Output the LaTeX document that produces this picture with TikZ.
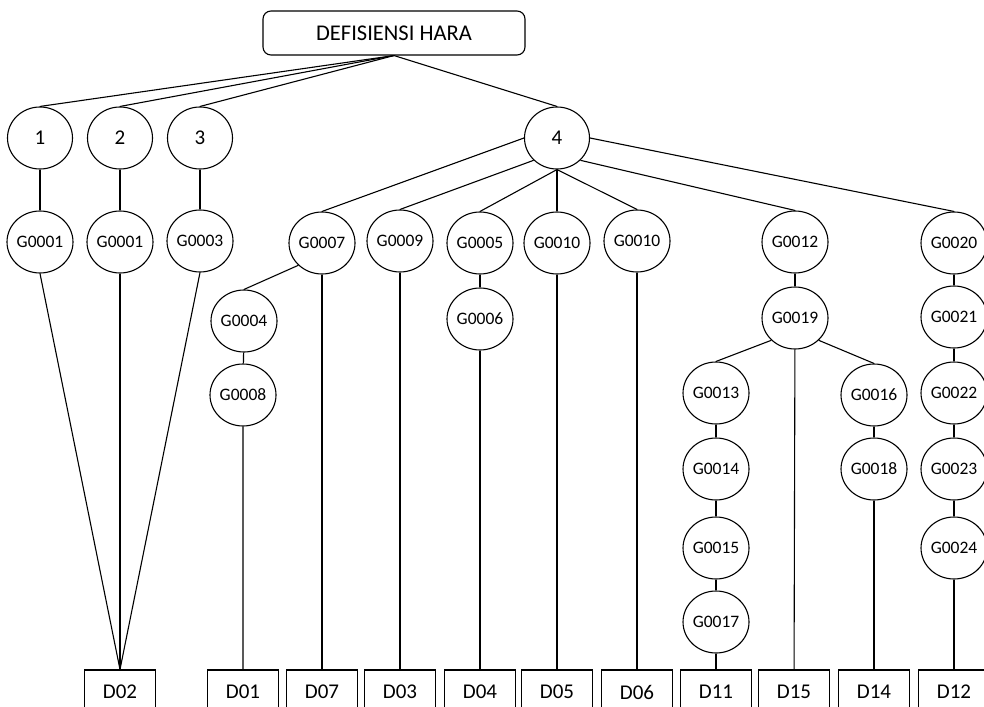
\documentclass[tikz,border=0pt]{standalone}
\usepackage{fontspec}
\setmainfont{Carlito}
\usetikzlibrary{shapes.geometric}
\begin{document}
\begin{tikzpicture}[x=1pt,y=-1pt,line width=1.1pt,
	akar/.style={draw,rounded corners=8pt,minimum width=262pt,minimum height=44pt,font=\fontsize{22.5}{26}\selectfont},
	kat/.style={draw,ellipse,minimum width=65pt,minimum height=62pt,inner sep=0pt,font=\fontsize{21}{25}\selectfont},
	gej/.style={draw,ellipse,minimum width=66pt,minimum height=62pt,inner sep=0pt,font=\fontsize{17.5}{20}\selectfont},
	pkt/.style={draw,minimum width=71pt,minimum height=44pt,inner sep=0pt,font=\fontsize{21}{25}\selectfont}]
				\clip (0,0) rectangle (984,706);
				\node[akar] (root) at (394,33) {DEFISIENSI HARA};
				\node[kat] (k1) at (40,138) {1};
				\node[kat] (k2) at (120,138) {2};
				\node[kat] (k3) at (200,138) {3};
				\node[kat] (k4) at (557,138) {4};
				\node[gej] (g1a) at (40,242) {G0001};
				\node[gej] (g1b) at (120,242) {G0001};
				\node[gej] (g3) at (200,241) {G0003};
				\node[gej] (g7) at (322,243) {G0007};
				\node[gej] (g9) at (400,241) {G0009};
				\node[gej] (g5) at (480,243) {G0005};
				\node[gej] (g10a) at (557,243) {G0010};
				\node[gej] (g10b) at (637,241) {G0010};
				\node[gej] (g12) at (795,242) {G0012};
				\node[gej] (g20) at (954,243) {G0020};
				\node[gej] (g4) at (244,321) {G0004};
				\node[gej] (g6) at (480,319) {G0006};
				\node[gej] (g19) at (795,318) {G0019};
				\node[gej] (g21) at (954,317) {G0021};
				\node[gej] (g8) at (243,395) {G0008};
				\node[gej] (g13) at (716,393) {G0013};
				\node[gej] (g16) at (874,395) {G0016};
				\node[gej] (g22) at (954,393) {G0022};
				\node[gej] (g14) at (716,469) {G0014};
				\node[gej] (g18) at (874,469) {G0018};
				\node[gej] (g23) at (954,469) {G0023};
				\node[gej] (g15) at (716,548) {G0015};
				\node[gej] (g24) at (954,548) {G0024};
				\node[gej] (g17) at (716,622) {G0017};
				\node[pkt] (d02) at (120,692) {D02};
				\node[pkt] (d01) at (243,692) {D01};
				\node[pkt] (d07) at (322,692) {D07};
				\node[pkt] (d03) at (400,692) {D03};
				\node[pkt] (d04) at (480,692) {D04};
				\node[pkt] (d05) at (557,692) {D05};
				\node[pkt] (d06) at (637,692) {D06};
				\node[pkt] (d11) at (716,692) {D11};
				\node[pkt] (d15) at (794,692) {D15};
				\node[pkt] (d14) at (874,692) {D14};
				\node[pkt] (d12) at (954,692) {D12};
				\draw (root.south) -- (k1.north);
				\draw (root.south) -- (k2.north);
				\draw (root.south) -- (k3.north);
				\draw (root.south) -- (k4.north);
				\draw (k1) -- (g1a);
				\draw (k2) -- (g1b);
				\draw (k3) -- (g3);
				\draw (g1a.south) -- (d02.north);
				\draw (g1b.south) -- (d02.north);
				\draw (g3.south) -- (d02.north);
				\draw (k4.west) -- (g7.north);
				\draw (k4.south west) -- (g9.north);
				\draw (k4.south) -- (g5.north);
				\draw (k4.south) -- (g10a.north);
				\draw (k4.south) -- (g10b.north);
				\draw (k4.south east) -- (g12.north);
				\draw (k4.east) -- (g20.north);
				\draw (g7.south west) -- (g4.north);
				\draw (g7) -- (d07);
				\draw (g4) -- (g8) -- (d01);
				\draw (g9) -- (d03);
				\draw (g5) -- (g6) -- (d04);
				\draw (g10a) -- (d05);
				\draw (g10b) -- (d06);
				\draw (g12) -- (g19);
				\draw (g19.south west) -- (g13.north);
				\draw (g19) -- (d15);
				\draw (g19.south east) -- (g16.north);
				\draw (g13) -- (g14) -- (g15) -- (g17) -- (d11);
				\draw (g16) -- (g18) -- (d14);
				\draw (g20) -- (g21) -- (g22) -- (g23) -- (g24) -- (d12);
\end{tikzpicture}
\end{document}
